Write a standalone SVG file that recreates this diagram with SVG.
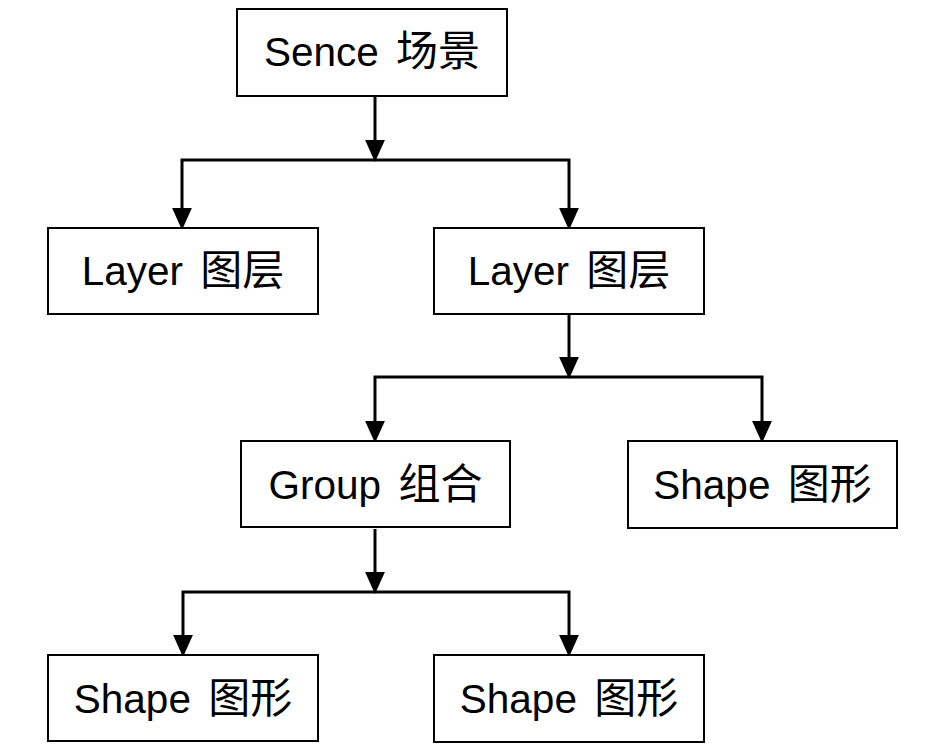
<svg xmlns="http://www.w3.org/2000/svg" width="946" height="754" viewBox="0 0 946 754">
  <style>
    .box { fill: #ffffff; stroke: #000000; stroke-width: 2; }
    .lbl { font-family: "Liberation Sans", "Noto Sans CJK SC", sans-serif; font-size: 40.5px; fill: #000000; text-anchor: middle; }
    .cjk { font-family: "Noto Sans CJK SC", sans-serif; font-size: 42px; }
    .con { fill: none; stroke: #000000; stroke-width: 3; stroke-linejoin: miter; }
  </style>
  <defs>
    <marker id="arr" markerUnits="userSpaceOnUse" markerWidth="22" markerHeight="21" viewBox="0 0 20 18" refX="10" refY="9" orient="auto">
      <path d="M0,0 L20,9 L0,18 Z" fill="#000000"/>
    </marker>
  </defs>
  <rect width="946" height="754" fill="#ffffff"/>

  <g id="connectors">
    <path class="con" d="M375,97 V151" marker-end="url(#arr)"/>
    <path class="con" d="M375,160 H182 V219" marker-end="url(#arr)"/>
    <path class="con" d="M375,160 H569 V219" marker-end="url(#arr)"/>

    <path class="con" d="M569,315 V368" marker-end="url(#arr)"/>
    <path class="con" d="M569,377 H375 V432" marker-end="url(#arr)"/>
    <path class="con" d="M569,377 H762 V432" marker-end="url(#arr)"/>

    <path class="con" d="M375,529 V583" marker-end="url(#arr)"/>
    <path class="con" d="M375,592 H183 V646" marker-end="url(#arr)"/>
    <path class="con" d="M375,592 H569 V646" marker-end="url(#arr)"/>
  </g>

  <g id="scene">
    <rect class="box" x="237" y="9" width="270" height="87"/>
    <text class="lbl" x="372" y="66">Sence <tspan class="cjk" dx="6">场景</tspan></text>
  </g>
  <g id="layer1">
    <rect class="box" x="48" y="228" width="270" height="86"/>
    <text class="lbl" x="183" y="285">Layer <tspan class="cjk" dx="6">图层</tspan></text>
  </g>
  <g id="layer2">
    <rect class="box" x="434" y="228" width="270" height="86"/>
    <text class="lbl" x="569" y="285">Layer <tspan class="cjk" dx="6">图层</tspan></text>
  </g>
  <g id="group">
    <rect class="box" x="241" y="441" width="269" height="86"/>
    <text class="lbl" x="375.5" y="499">Group <tspan class="cjk" dx="6">组合</tspan></text>
  </g>
  <g id="shape1">
    <rect class="box" x="628" y="441" width="269" height="87"/>
    <text class="lbl" x="762.5" y="499">Shape <tspan class="cjk" dx="6">图形</tspan></text>
  </g>
  <g id="shape2">
    <rect class="box" x="48" y="655" width="270" height="86"/>
    <text class="lbl" x="183" y="713">Shape <tspan class="cjk" dx="6">图形</tspan></text>
  </g>
  <g id="shape3">
    <rect class="box" x="434" y="655" width="270" height="87"/>
    <text class="lbl" x="569" y="713">Shape <tspan class="cjk" dx="6">图形</tspan></text>
  </g>
</svg>
